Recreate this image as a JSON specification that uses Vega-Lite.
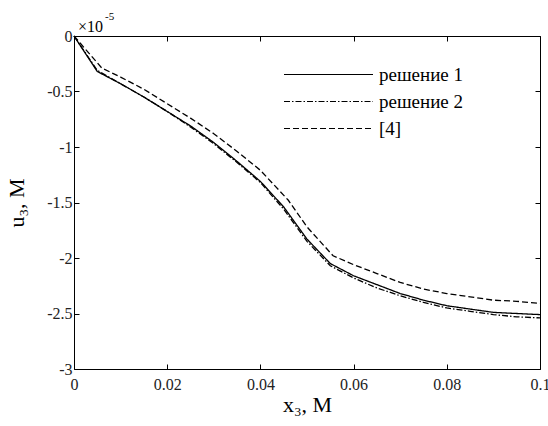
{
  "$schema": "https://vega.github.io/schema/vega-lite/v6.json",
  "width": 466,
  "height": 333,
  "autosize": {"type": "none"},
  "padding": {"left": 74, "top": 36, "right": 8, "bottom": 57},
  "background": "white",
  "config": {"view": {"stroke": null}, "font": "Liberation Serif"},
  "layer": [
    {
      "data": {
        "values": [
          {"x": 0, "u": 0, "s": "решение 1"},
          {"x": 0.005, "u": -0.32, "s": "решение 1"},
          {"x": 0.01, "u": -0.43, "s": "решение 1"},
          {"x": 0.015, "u": -0.55, "s": "решение 1"},
          {"x": 0.02, "u": -0.68, "s": "решение 1"},
          {"x": 0.025, "u": -0.81, "s": "решение 1"},
          {"x": 0.03, "u": -0.96, "s": "решение 1"},
          {"x": 0.035, "u": -1.13, "s": "решение 1"},
          {"x": 0.04, "u": -1.31, "s": "решение 1"},
          {"x": 0.045, "u": -1.54, "s": "решение 1"},
          {"x": 0.05, "u": -1.83, "s": "решение 1"},
          {"x": 0.055, "u": -2.05, "s": "решение 1"},
          {"x": 0.06, "u": -2.16, "s": "решение 1"},
          {"x": 0.065, "u": -2.24, "s": "решение 1"},
          {"x": 0.07, "u": -2.32, "s": "решение 1"},
          {"x": 0.075, "u": -2.38, "s": "решение 1"},
          {"x": 0.08, "u": -2.43, "s": "решение 1"},
          {"x": 0.085, "u": -2.46, "s": "решение 1"},
          {"x": 0.09, "u": -2.49, "s": "решение 1"},
          {"x": 0.095, "u": -2.5, "s": "решение 1"},
          {"x": 0.1, "u": -2.51, "s": "решение 1"},
          {"x": 0, "u": 0, "s": "решение 2"},
          {"x": 0.005, "u": -0.31, "s": "решение 2"},
          {"x": 0.01, "u": -0.43, "s": "решение 2"},
          {"x": 0.015, "u": -0.55, "s": "решение 2"},
          {"x": 0.02, "u": -0.68, "s": "решение 2"},
          {"x": 0.025, "u": -0.82, "s": "решение 2"},
          {"x": 0.03, "u": -0.97, "s": "решение 2"},
          {"x": 0.035, "u": -1.14, "s": "решение 2"},
          {"x": 0.04, "u": -1.32, "s": "решение 2"},
          {"x": 0.045, "u": -1.56, "s": "решение 2"},
          {"x": 0.05, "u": -1.85, "s": "решение 2"},
          {"x": 0.055, "u": -2.07, "s": "решение 2"},
          {"x": 0.06, "u": -2.18, "s": "решение 2"},
          {"x": 0.065, "u": -2.27, "s": "решение 2"},
          {"x": 0.07, "u": -2.34, "s": "решение 2"},
          {"x": 0.075, "u": -2.4, "s": "решение 2"},
          {"x": 0.08, "u": -2.45, "s": "решение 2"},
          {"x": 0.085, "u": -2.48, "s": "решение 2"},
          {"x": 0.09, "u": -2.51, "s": "решение 2"},
          {"x": 0.095, "u": -2.53, "s": "решение 2"},
          {"x": 0.1, "u": -2.54, "s": "решение 2"},
          {"x": 0, "u": 0, "s": "[4]"},
          {"x": 0.006, "u": -0.29, "s": "[4]"},
          {"x": 0.01, "u": -0.37, "s": "[4]"},
          {"x": 0.015, "u": -0.48, "s": "[4]"},
          {"x": 0.02, "u": -0.61, "s": "[4]"},
          {"x": 0.025, "u": -0.74, "s": "[4]"},
          {"x": 0.03, "u": -0.88, "s": "[4]"},
          {"x": 0.035, "u": -1.04, "s": "[4]"},
          {"x": 0.04, "u": -1.21, "s": "[4]"},
          {"x": 0.046, "u": -1.48, "s": "[4]"},
          {"x": 0.05, "u": -1.72, "s": "[4]"},
          {"x": 0.0556, "u": -1.98, "s": "[4]"},
          {"x": 0.06, "u": -2.06, "s": "[4]"},
          {"x": 0.065, "u": -2.14, "s": "[4]"},
          {"x": 0.07, "u": -2.22, "s": "[4]"},
          {"x": 0.075, "u": -2.28, "s": "[4]"},
          {"x": 0.08, "u": -2.32, "s": "[4]"},
          {"x": 0.085, "u": -2.35, "s": "[4]"},
          {"x": 0.09, "u": -2.38, "s": "[4]"},
          {"x": 0.095, "u": -2.39, "s": "[4]"},
          {"x": 0.1, "u": -2.41, "s": "[4]"}
        ]
      },
      "mark": {"type": "line", "color": "black", "strokeWidth": 1.3},
      "encoding": {
        "x": {
          "field": "x", "type": "quantitative",
          "scale": {"domain": [0, 0.1], "nice": false, "zero": false},
          "axis": {
            "orient": "bottom", "values": [0, 0.02, 0.04, 0.06, 0.08, 0.1],
            "labelExpr": "datum.value + ''", "title": "x₃, М", "grid": false,
            "tickSize": -5, "tickColor": "black", "domainColor": "black",
            "labelPadding": 12, "labelFont": "Liberation Serif", "labelFontSize": 16,
            "labelColor": "#222", "labelFlush": false,
            "titleFont": "Liberation Serif", "titleFontSize": 22, "titleFontWeight": "normal",
            "titleColor": "black", "titlePadding": 2
          }
        },
        "y": {
          "field": "u", "type": "quantitative",
          "scale": {"domain": [-3, 0], "nice": false, "zero": false},
          "axis": {
            "orient": "left", "values": [0, -0.5, -1, -1.5, -2, -2.5, -3],
            "labelExpr": "datum.value + ''", "title": "u₃, М", "grid": false,
            "tickSize": -5, "tickColor": "black", "domainColor": "black",
            "labelPadding": 7, "labelFont": "Liberation Serif", "labelFontSize": 16,
            "labelColor": "#222", "labelFlush": false,
            "titleFont": "Liberation Serif", "titleFontSize": 22, "titleFontWeight": "normal",
            "titleColor": "black", "titlePadding": 18
          }
        },
        "strokeDash": {
          "field": "s", "type": "nominal",
          "scale": {"domain": ["решение 1", "решение 2", "[4]"], "range": [[1, 0], [6, 2, 1.5, 2], [6, 3]]},
          "legend": {
            "orient": "none", "legendX": 209, "legendY": 25, "title": null,
            "symbolType": "stroke", "symbolSize": 7921, "symbolStrokeWidth": 1.2,
            "symbolStrokeColor": "black", "clipHeight": 27, "rowPadding": 0,
            "labelOffset": 5, "labelFont": "Liberation Serif", "labelFontSize": 19,
            "labelColor": "black", "padding": 0, "symbolOffset": 0
          }
        }
      }
    },
    {
      "data": {"values": [{"x": 0, "u": 0, "t": "×10"}]},
      "mark": {"type": "text", "align": "left", "baseline": "middle", "dx": 4, "dy": -9, "fontSize": 16, "font": "Liberation Serif", "color": "black"},
      "encoding": {
        "x": {
          "field": "x", "type": "quantitative",
          "axis": {"orient": "top", "values": [0, 0.02, 0.04, 0.06, 0.08, 0.1], "labels": false, "title": null, "grid": false, "tickSize": -5, "tickColor": "black", "domainColor": "black"}
        },
        "y": {
          "field": "u", "type": "quantitative",
          "axis": {"orient": "right", "values": [0, -0.5, -1, -1.5, -2, -2.5, -3], "labels": false, "title": null, "grid": false, "tickSize": -5, "tickColor": "black", "domainColor": "black"}
        },
        "text": {"field": "t"}
      }
    },
    {
      "data": {"values": [{"x": 0, "u": 0, "t": "-5"}]},
      "mark": {"type": "text", "align": "left", "baseline": "middle", "dx": 31, "dy": -19, "fontSize": 11, "font": "Liberation Serif", "color": "black"},
      "encoding": {
        "x": {"field": "x", "type": "quantitative", "axis": null},
        "y": {"field": "u", "type": "quantitative", "axis": null},
        "text": {"field": "t"}
      }
    }
  ],
  "resolve": {"axis": {"x": "independent", "y": "independent"}}
}
